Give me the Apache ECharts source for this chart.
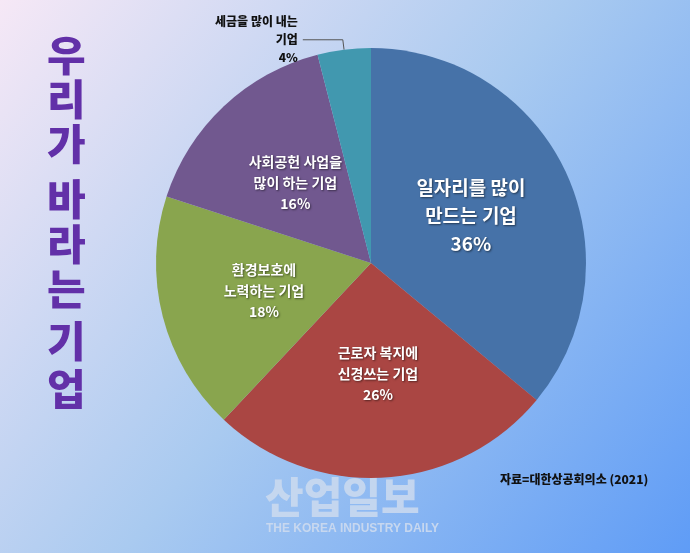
<!DOCTYPE html>
<html>
<head>
<meta charset="utf-8">
<script src="https://cdn.jsdelivr.net/npm/echarts@6/dist/echarts.min.js"></script>
<style>
  html, body { margin: 0; padding: 0; width: 100%; height: 100%; overflow: hidden; }
  #chart { width: 690px; height: 553px; }
</style>
</head>
<body>
<div id="chart"></div>
<script>
var categories = ['일자리를 많이\n만드는 기업', '근로자 복지에\n신경쓰는 기업', '환경보호에\n노력하는 기업', '사회공헌 사업을\n많이 하는 기업', '세금을 많이 내는\n기업'];
var values = [36, 26, 18, 16, 4];
var colors = ['#4672a8', '#aa4643', '#89a54e', '#71588f', '#4198af'];
var titleChars = ['우', '리', '가', '바', '라', '는', '기', '업'];
var titleY = [34, 78, 123, 178, 223, 268, 320, 368];

var chart = echarts.init(document.getElementById('chart'));
var data = categories.map(function (c, i) {
  var item = { name: c, value: values[i], itemStyle: { color: colors[i] } };
  if (i === 0) item.label = { fontSize: 19, lineHeight: 28 };
  if (i === 4) item.label = {
    position: 'outside', color: '#111', fontSize: 12, lineHeight: 18, fontWeight: 900,
    textShadowBlur: 0, textShadowOffsetX: 0, textShadowOffsetY: 0, align: 'center'
  };
  if (i === 4) item.labelLine = { show: true, length: 10, length2: 40, lineStyle: { color: '#555', width: 1 } };
  return item;
});

var graphic = titleChars.map(function (ch, i) {
  return {
    type: 'text', left: 47, top: titleY[i],
    style: {
      text: ch, fill: '#6230a8', font: '900 42px "Noto Sans CJK KR"',
      shadowColor: 'rgba(40,20,70,0.55)', shadowBlur: 4, shadowOffsetX: 2, shadowOffsetY: 3
    }
  };
});
graphic.push({
  type: 'text', left: 500, top: 473,
  style: { text: '자료=대한상공회의소 (2021)', fill: '#111', font: '900 12px "Noto Sans CJK KR"' }
});
graphic.push({
  type: 'text', left: 265, top: 476,
  style: { text: '산업일보', fill: 'rgba(205,218,238,0.85)', font: '900 42px "Noto Sans CJK KR"',
    shadowColor: 'rgba(60,80,120,0.5)', shadowBlur: 3, shadowOffsetX: 1, shadowOffsetY: 1 }
});
graphic.push({
  type: 'text', left: 266, top: 523,
  style: { text: 'THE KOREA INDUSTRY DAILY', fill: 'rgba(205,218,238,0.9)', font: 'bold 12px "Liberation Sans"',
    shadowColor: 'rgba(60,80,120,0.5)', shadowBlur: 2, shadowOffsetX: 1, shadowOffsetY: 1 }
});

chart.setOption({
  backgroundColor: {
    type: 'linear', x: 0, y: 0, x2: 1, y2: 1,
    colorStops: [{ offset: 0, color: '#f6e8f6' }, { offset: 0.5, color: '#a9caf0' }, { offset: 1, color: '#5f9cf6' }]
  },
  graphic: graphic,
  series: [{
    type: 'pie',
    center: [371, 263],
    radius: [0, 215],
    startAngle: 90,
    clockwise: true,
    silent: true,
    label: {
      position: 'inside', color: '#fff', fontSize: 14, lineHeight: 21,
      fontFamily: '"Noto Sans CJK KR"', fontWeight: 'bold',
      textShadowColor: 'rgba(0,0,0,0.5)', textShadowBlur: 2, textShadowOffsetX: 1, textShadowOffsetY: 1,
      formatter: function (p) { return p.name + '\n' + p.value + '%'; }
    },
    data: data
  }]
});
</script>
</body>
</html>
